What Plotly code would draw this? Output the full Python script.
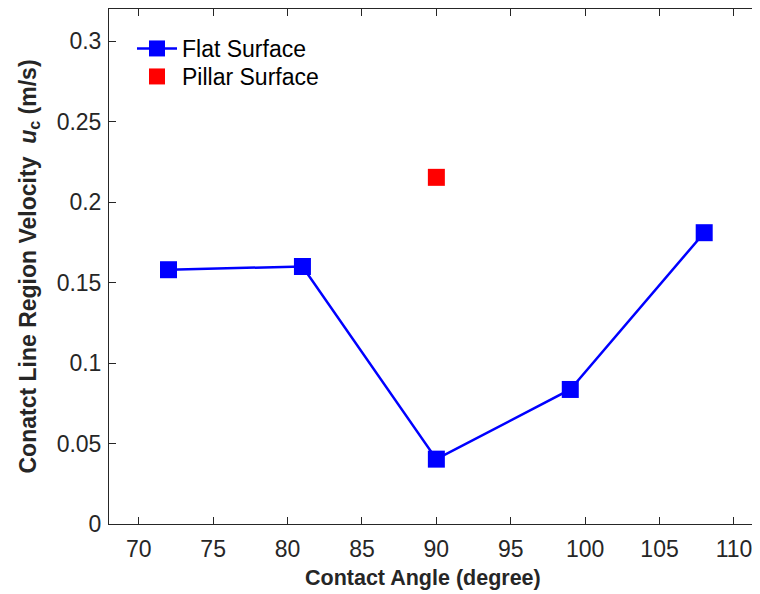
import plotly.graph_objects as go

# Data
contact_angle = [72, 81, 90, 99, 108]
flat_velocity = [0.158, 0.160, 0.0403, 0.0836, 0.181]
pillar_angle = [90]
pillar_velocity = [0.2154]

x_ticks = [70, 75, 80, 85, 90, 95, 100, 105, 110]
y_ticks = [0, 0.05, 0.1, 0.15, 0.2, 0.25, 0.3]
y_tick_text = ["0", "0.05", "0.1", "0.15", "0.2", "0.25", "0.3"]

# page body has an 8px margin, so the figure is laid out 8px smaller
OFF = 8
W, H = 760 - OFF, 594 - OFF
L, R, T, B = 109 - OFF, 0, 9 - OFF, 594 - 524
PW, PH = W - L - R, H - T - B
TXT = "#262626"
FONT = "Liberation Sans, Arial, sans-serif"

fig = go.Figure()
fig.add_trace(go.Scatter(
    x=contact_angle, y=flat_velocity, mode="lines+markers", name="Flat Surface",
    line=dict(color="#0000FF", width=2.5),
    marker=dict(symbol="square", size=17, color="#0000FF"),
    legend="legend",
))
fig.add_trace(go.Scatter(
    x=pillar_angle, y=pillar_velocity, mode="markers", name="Pillar Surface",
    marker=dict(symbol="square", size=17, color="#FF0000"),
    legend="legend2",
))

axis_common = dict(
    showgrid=False, zeroline=False, showline=True, linecolor=TXT, linewidth=1,
    mirror="ticks", ticks="inside", ticklen=7, tickwidth=1, tickcolor=TXT,
    tickfont=dict(family=FONT, size=23, color=TXT),
)
fig.update_xaxes(range=[68, 111.75], tickvals=x_ticks, ticklabelstandoff=4, **axis_common)
fig.update_yaxes(range=[0, 0.32], tickvals=y_ticks, ticktext=y_tick_text,
                 ticklabelstandoff=2, **axis_common)

fig.add_annotation(
    text="<b>Contact Angle (degree)</b>", xref="paper", yref="paper",
    x=(423 - OFF - L) / PW, y=0, xanchor="center", yanchor="middle",
    yshift=-54, showarrow=False, font=dict(family=FONT, size=21.5, color=TXT),
)
fig.add_annotation(
    text="<b>Conatct Line Region Velocity  <i>u</i><sub>c</sub> (m/s)</b>",
    xref="paper", yref="paper", x=0, y=0.5, xanchor="center", yanchor="middle",
    xshift=-(L - (29 - OFF)), textangle=-90, showarrow=False,
    font=dict(family=FONT, size=23, color=TXT),
)

leg_common = dict(xanchor="left", yanchor="top", bgcolor="rgba(0,0,0,0)",
                  font=dict(family=FONT, size=23, color="black"), itemwidth=40)
fig.update_layout(
    width=W, height=H, margin=dict(l=L, r=R, t=T, b=B, autoexpand=False),
    paper_bgcolor="white", plot_bgcolor="white",
    showlegend=True,
    legend=dict(x=(132 - OFF - L) / PW, y=1 - (27 - OFF - T) / PH, **leg_common),
    legend2=dict(x=(132 - OFF - L) / PW, y=1 - (55 - OFF - T) / PH, **leg_common),
)

fig.write_html("out.html")
